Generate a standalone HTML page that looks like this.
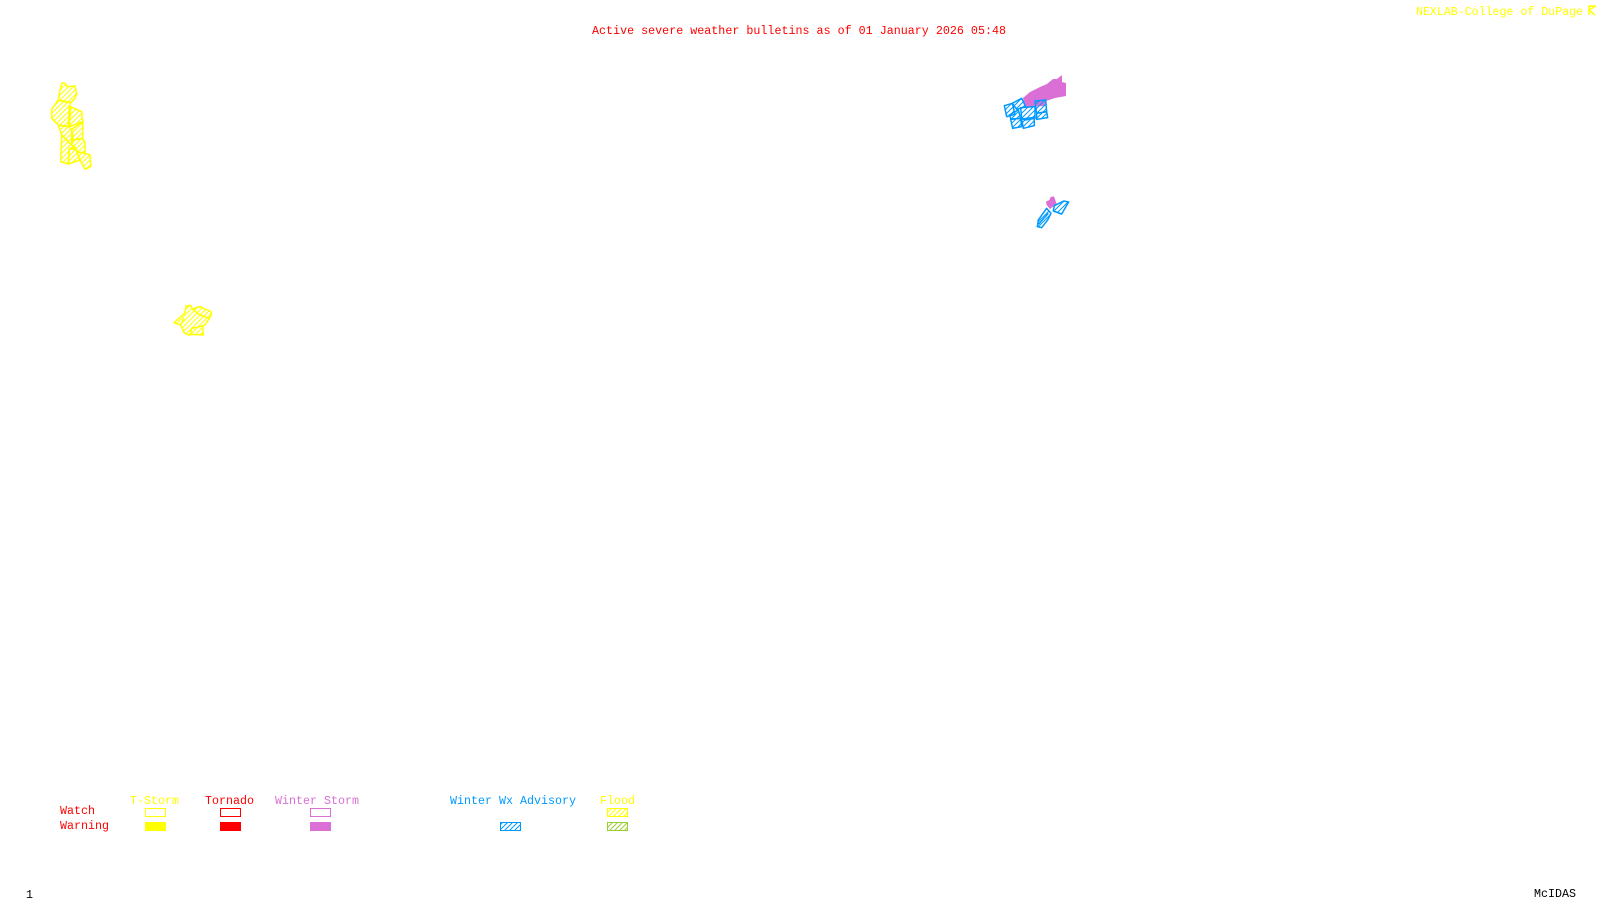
<!DOCTYPE html>
<html><head><meta charset="utf-8"><style>
html,body{margin:0;padding:0;background:#fff;width:1600px;height:900px;overflow:hidden}
svg{display:block}
text{font-family:"Liberation Mono",monospace;font-size:11.67px}
</style></head><body>
<svg width="1600" height="900" viewBox="0 0 1600 900" xmlns="http://www.w3.org/2000/svg">
<defs>
<pattern id="hy" width="15" height="15" patternUnits="userSpaceOnUse"><path d="M-3 3L3 -3M0 15L15 0M12 18L18 12" stroke="#ff0" stroke-width="3" fill="none"/></pattern>
<pattern id="hb" width="15" height="15" patternUnits="userSpaceOnUse"><path d="M-3 3L3 -3M0 15L15 0M12 18L18 12" stroke="#09f" stroke-width="3" fill="none"/></pattern>
<pattern id="ly" width="5" height="5" patternUnits="userSpaceOnUse"><path d="M-1 1L1 -1M0 5L5 0M4 6L6 4" stroke="#ff0" stroke-width="1"/></pattern>
<pattern id="lb" width="5" height="5" patternUnits="userSpaceOnUse"><path d="M-1 1L1 -1M0 5L5 0M4 6L6 4" stroke="#09f" stroke-width="1"/></pattern>
<pattern id="lg" width="5" height="5" patternUnits="userSpaceOnUse"><path d="M-1 1L1 -1M0 5L5 0M4 6L6 4" stroke="#9acd32" stroke-width="1"/></pattern>
</defs>

<text x="592" y="34" fill="#f00" textLength="414">Active severe weather bulletins as of 01 January 2026 05:48</text>
<text x="1416" y="15" fill="#ff0" textLength="167">NEXLAB-College of DuPage</text>
<path d="M1589 15V6H1596M1589 10L1596 6M1589 10L1595 15" stroke="#ff0" stroke-width="1.5" fill="none"/>

<!-- yellow west -->
<g transform="translate(30 70) scale(.3333)" fill="url(#hy)" stroke="#ff0" stroke-width="4.5" stroke-linejoin="round">
<polygon points="97,38 90,60 85,90 100,95 122,98 135,85 140,72 135,48 112,50 105,40"/>
<polygon points="85,90 65,118 65,145 85,165 115,170 118,110 122,98"/>
<polygon points="122,110 118,170 158,155 155,125"/>
<polygon points="85,165 95,195 125,225 125,178 115,170"/>
<polygon points="125,178 130,210 158,205 158,155"/>
<polygon points="95,195 92,275 115,282 118,235 135,232 125,225"/>
<polygon points="118,235 115,282 150,270 140,240"/>
<polygon points="125,225 135,232 140,245 165,250 165,218 158,205 130,210"/>
<polygon points="150,270 165,298 182,290 180,255 165,250 140,245"/>
</g>

<!-- yellow central -->
<g transform="translate(160 290) scale(.3333)" fill="url(#hy)" stroke="#ff0" stroke-width="4.5" stroke-linejoin="round">
<polygon points="78,48 92,46 98,58 110,52 122,50 135,58 150,62 155,72 148,85 135,105 128,108 130,135 100,133 85,135 72,128 62,105 42,98 60,82 75,68"/>
<path fill="none" d="M98,58L120,75L148,85M90,135L95,115L128,108M62,105L72,85"/>
</g>

<!-- NE purple + blue -->
<polygon points="1023,98 1030,92 1040,87 1047,84 1053,79 1057,79 1062,75 1062,82 1066,83 1066,96 1055,98 1046,101 1045,106 1025,107" fill="#da70d6"/>
<g transform="translate(975 65) scale(.3333)" fill="url(#hb)" stroke="#09f" stroke-width="4.5" stroke-linejoin="round">
<polygon points="88,122 112,115 120,148 95,155"/>
<polygon points="112,115 140,100 152,125 125,133"/>
<polygon points="103,150 130,135 137,160 108,162"/>
<polygon points="137,128 180,125 180,160 150,165 140,160"/>
<polygon points="180,108 212,105 215,140 185,145"/>
<polygon points="185,145 215,140 218,158 185,163"/>
<polygon points="107,163 137,160 140,185 113,190"/>
<polygon points="140,162 178,157 178,182 145,190"/>
</g>

<!-- NE2 -->
<g transform="translate(1005 185) scale(.3333)">
<polygon points="123,50 133,45 137,36 147,34 155,57 135,72 125,60" fill="#da70d6"/>
<g fill="url(#hb)" stroke="#09f" stroke-width="4.5" stroke-linejoin="round">
<polygon points="148,62 176,48 191,51 170,87 145,78"/>
<polygon points="125,70 138,85 128,105 110,128 97,125 100,105"/>
<path fill="none" d="M100,118L130,85"/>
</g>
</g>

<!-- legend -->
<text x="130" y="804" fill="#ff0" textLength="49">T-Storm</text>
<text x="205" y="804" fill="#f00" textLength="49">Tornado</text>
<text x="275" y="804" fill="#da70d6" textLength="84">Winter Storm</text>
<text x="450" y="804" fill="#09f" textLength="126">Winter Wx Advisory</text>
<text x="600" y="804" fill="#ff0" textLength="35">Flood</text>
<text x="60" y="814" fill="#f00" textLength="35">Watch</text>
<text x="60" y="829" fill="#f00" textLength="49">Warning</text>

<g shape-rendering="crispEdges" stroke-width="1">
<rect x="145.5" y="808.5" width="20" height="8" fill="none" stroke="#ff0"/>
<rect x="220.5" y="808.5" width="20" height="8" fill="none" stroke="#f00"/>
<rect x="310.5" y="808.5" width="20" height="8" fill="none" stroke="#da70d6"/>
<rect x="145" y="822" width="21" height="9" fill="#ff0"/>
<rect x="220" y="822" width="21" height="9" fill="#f00"/>
<rect x="310" y="822" width="21" height="9" fill="#da70d6"/>
<rect x="500.5" y="822.5" width="20" height="8" fill="url(#lb)" stroke="#09f"/>
<rect x="607.5" y="808.5" width="20" height="8" fill="url(#ly)" stroke="#ff0"/>
<rect x="607.5" y="822.5" width="20" height="8" fill="url(#lg)" stroke="#9acd32"/>
</g>

<text x="26" y="898" fill="#000">1</text>
<text x="1534" y="897" fill="#000" textLength="42">McIDAS</text>
</svg>
</body></html>
